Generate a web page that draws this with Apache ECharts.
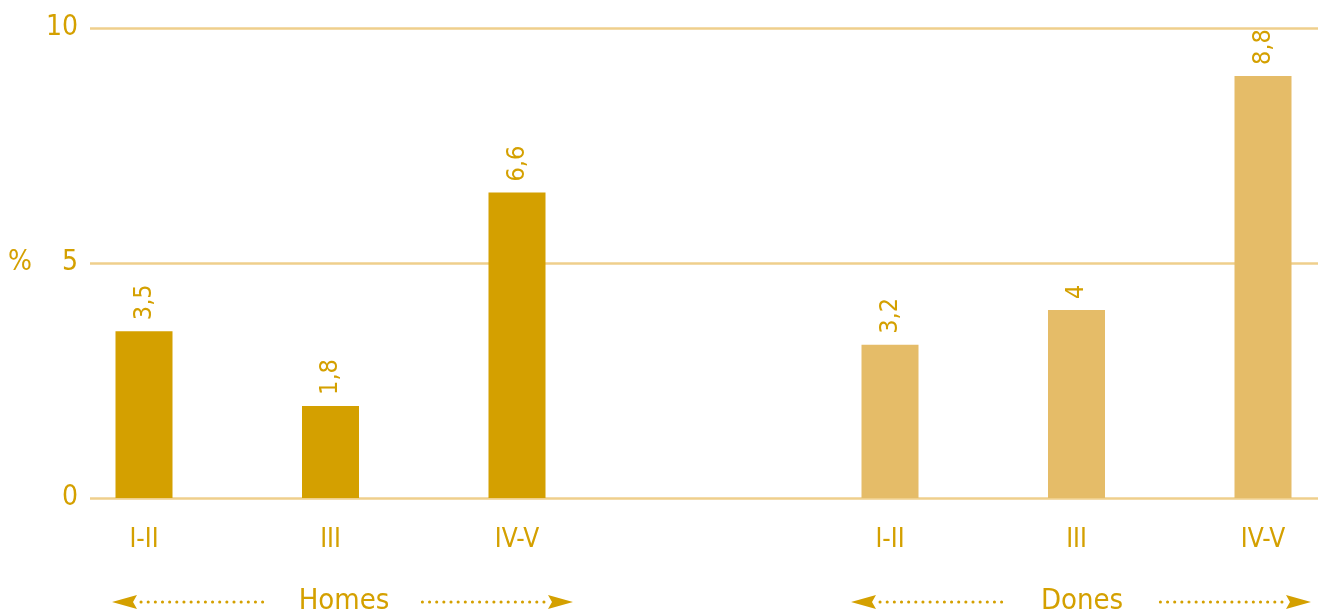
<!DOCTYPE html>
<html>
<head>
<meta charset="utf-8">
<script src="https://cdn.jsdelivr.net/npm/echarts@6/dist/echarts.min.js"></script>
<style>html,body{margin:0;padding:0;background:#fff}#c{width:1318px;height:614px}</style>
</head>
<body>
<div id="c"></div>
<script>
var categories = ['I-II', 'III', 'IV-V', '', 'I-II', 'III', 'IV-V'];
var homesValues = [3.55, 1.96, 6.5, null, null, null, null];
var donesValues = [null, null, null, null, 3.26, 4.0, 8.98];
var barLabels = ['3,5', '1,8', '6,6', '', '3,2', '4', '8,8'];
var yTicks = [0, 5, 10];
var groupNames = ['Homes', 'Dones'];

var FONT = '"Liberation Sans Narrow", "DejaVu Sans Condensed", "Noto Sans", sans-serif';
var TXT = '#D4A000';
var DARK = '#D4A000';
var LIGHT = '#E5BC68';
var GRIDC = '#EFCF8C';

var labelCfg = {
  show: true, position: 'top', rotate: 90, align: 'left', verticalAlign: 'middle',
  distance: 11, color: TXT, fontFamily: FONT, fontSize: 25,
  formatter: function (p) { return barLabels[p.dataIndex]; }
};

// dotted arrow; tipX is the arrow tip, tailX the far end of the dots
function arrow(tipX, tailX, y) {
  var d = tailX > tipX ? 1 : -1;
  return [
    {type: 'line', shape: {x1: tipX + d * 29, y1: y, x2: tailX, y2: y},
      style: {stroke: TXT, lineWidth: 3, lineCap: 'round', lineDash: [0.1, 7.05]}},
    {type: 'polygon', shape: {points: [[tipX, y], [tipX + d * 25, y - 7], [tipX + d * 21, y], [tipX + d * 25, y + 7]]},
      style: {fill: TXT}}
  ];
}

var chart = echarts.init(document.getElementById('c'));
var option = {
  animation: false,
  grid: [
    {left: 90, right: 0, top: 28, bottom: 116, outerBoundsMode: 'none', containLabel: false},
    {left: 50.75, width: 1305.5, top: 28, bottom: 116, outerBoundsMode: 'none', containLabel: false}
  ],
  xAxis: [
    {gridIndex: 0, type: 'value', min: 0, max: 1, show: false},
    {gridIndex: 1, type: 'category', data: categories,
      axisLine: {show: false}, axisTick: {show: false},
      axisLabel: {color: TXT, fontFamily: FONT, fontSize: 26, margin: 29, interval: 0}}
  ],
  yAxis: [
    {gridIndex: 0, type: 'value', min: 0, max: 10, interval: 5,
      name: '%', nameLocation: 'middle', nameRotate: 0, nameGap: 58,
      nameTextStyle: {color: TXT, fontFamily: FONT, fontSize: 28},
      axisLine: {show: false}, axisTick: {show: false},
      axisLabel: {color: TXT, fontFamily: FONT, fontSize: 28, margin: 12,
        formatter: function (v) { return yTicks.indexOf(v) >= 0 ? String(v) : ''; }},
      splitLine: {lineStyle: {color: GRIDC, width: 2.5}}},
    {gridIndex: 1, type: 'value', min: 0, max: 10, show: false, splitLine: {show: false}}
  ],
  series: [
    {type: 'bar', xAxisIndex: 1, yAxisIndex: 1, data: homesValues, barWidth: 57, barGap: '-100%',
      itemStyle: {color: DARK}, label: labelCfg},
    {type: 'bar', xAxisIndex: 1, yAxisIndex: 1, data: donesValues, barWidth: 57,
      itemStyle: {color: LIGHT}, label: labelCfg}
  ],
  graphic: [].concat(
    arrow(112, 265, 602), arrow(573, 420, 602),
    arrow(851, 1003, 602), arrow(1311, 1158, 602),
    [
      {type: 'text', x: 344, y: 601, style: {text: groupNames[0], fill: TXT, font: '29px ' + FONT, textAlign: 'center', textVerticalAlign: 'middle'}},
      {type: 'text', x: 1082, y: 601, style: {text: groupNames[1], fill: TXT, font: '29px ' + FONT, textAlign: 'center', textVerticalAlign: 'middle'}}
    ]
  )
};
chart.setOption(option);
</script>
</body>
</html>
